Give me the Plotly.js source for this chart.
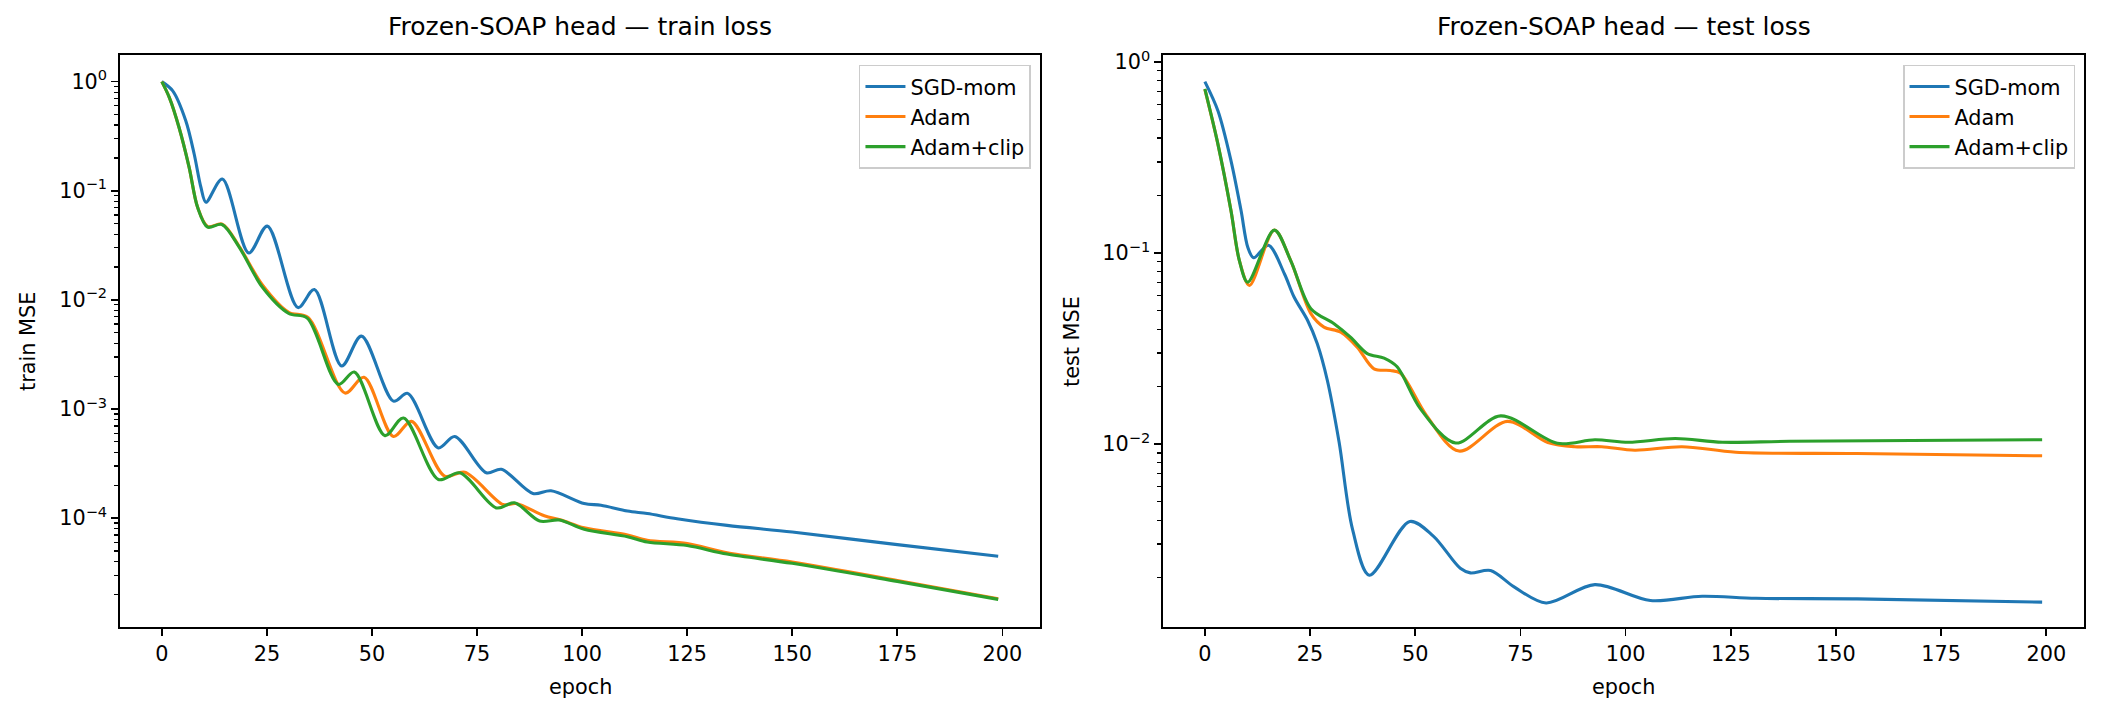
<!DOCTYPE html>
<html>
<head>
<meta charset="utf-8">
<script src="https://cdn.plot.ly/plotly-3.0.1.min.js"></script>
<style>
  html, body { margin: 0; padding: 0; background: #fff; }
  #chart { width: 2104px; height: 718px; }
</style>
</head>
<body>
<div id="chart"></div>
<script>
// train loss (left panel)
const trainSgdEpoch = [0, 2.6, 5.7, 7.7, 9.3, 10.5, 14.4, 20.7, 25.1, 32.4, 36.3, 42.8, 47.5, 55.1, 58.5, 65.8, 69.7, 77.2, 80.8, 88.3, 92.6, 100.5, 104.5, 110.8, 115.5, 122.6, 134.5, 150, 175, 199];
const trainSgd = [1.0, 0.822, 0.4375, 0.217, 0.1076, 0.0785, 0.128, 0.0269, 0.0474, 0.0085, 0.01245, 0.00248, 0.00465, 0.00118, 0.00139, 0.00044, 0.00056, 0.00026, 0.00028, 0.000168, 0.000178, 0.000136, 0.000131, 0.000116, 0.000110, 0.0000988, 0.0000858, 0.0000745, 0.0000571, 0.0000447];

const trainAdamEpoch = [0, 1.8, 4.1, 6.5, 8.5, 10.9, 14.4, 18.4, 23.9, 30.2, 34.8, 43.6, 48.1, 55.1, 59.4, 67.3, 72.1, 81.2, 84.3, 91, 95, 100.5, 110.8, 115.5, 125, 134.5, 150, 175, 199];
const trainAdam = [1.0, 0.714, 0.38, 0.164, 0.0708, 0.047, 0.0495, 0.031, 0.0138, 0.0077, 0.0069, 0.0014, 0.00195, 0.00056, 0.00077, 0.000242, 0.000263, 0.000133, 0.000136, 0.000105, 0.000096, 0.0000815, 0.000070, 0.0000625, 0.0000585, 0.0000480, 0.0000395, 0.0000268, 0.0000182];

const trainClipEpoch = [0, 1.8, 4.1, 6.5, 8.5, 10.9, 14.3, 18.4, 23.9, 30.2, 34.6, 42.0, 45.8, 53.1, 57.5, 65.8, 70.9, 79.6, 83.9, 89.9, 94.6, 100.5, 110.8, 115.5, 125, 134.5, 150, 175, 199];
const trainClip = [1.0, 0.714, 0.38, 0.164, 0.0708, 0.0464, 0.049, 0.0305, 0.0131, 0.0075, 0.0068, 0.00168, 0.00218, 0.00057, 0.000826, 0.000226, 0.00026, 0.000124, 0.000138, 0.000094, 0.000096, 0.000079, 0.0000676, 0.0000604, 0.000056, 0.0000468, 0.0000385, 0.0000263, 0.000018];

// test loss (right panel)
const testSgdEpoch = [0, 3.1, 6.2, 8.6, 10.2, 11.6, 15.1, 18.9, 21.2, 24.4, 26.7, 29.1, 31.9, 35.1, 39.1, 48.7, 54.3, 60.7, 63.1, 67.9, 73.5, 81.1, 92.7, 105.9, 118.2, 131, 155, 199];
const testSgd = [0.79, 0.556, 0.305, 0.167, 0.1074, 0.0945, 0.110, 0.078, 0.0589, 0.0445, 0.0336, 0.0216, 0.01026, 0.00358, 0.00206, 0.00394, 0.0033, 0.00224, 0.00212, 0.00218, 0.00179, 0.001475, 0.00184, 0.00152, 0.0016, 0.00156, 0.00155, 0.00149];

const testAdamEpoch = [0, 3.1, 6.2, 8.2, 10.6, 16.5, 20.4, 25.2, 28.3, 32.3, 36.2, 40.2, 44.1, 46.5, 52.7, 60.4, 71.9, 81.5, 87.9, 94.3, 102.2, 113.4, 126.2, 155, 199];
const testAdam = [0.72, 0.372, 0.167, 0.0914, 0.0678, 0.132, 0.0914, 0.0482, 0.041, 0.0386, 0.0322, 0.0248, 0.0243, 0.0235, 0.0141, 0.0092, 0.01316, 0.0102, 0.0097, 0.0097, 0.0093, 0.0097, 0.00908, 0.00893, 0.00869];

const testClipEpoch = [0, 3.1, 6.2, 8.2, 10.2, 16.5, 20.4, 25.2, 30.7, 34.6, 38.6, 42.6, 45.7, 51.2, 59.6, 70.3, 83.8, 92.7, 100.7, 111.8, 123, 139, 199];
const testClip = [0.723, 0.372, 0.167, 0.0914, 0.0705, 0.132, 0.0914, 0.0512, 0.0427, 0.0363, 0.0298, 0.0282, 0.0254, 0.01535, 0.01014, 0.01406, 0.0101, 0.01055, 0.01023, 0.0107, 0.01023, 0.01035, 0.01055];

const seriesNames = ["SGD-mom", "Adam", "Adam+clip"];
const seriesColors = ["#1f77b4", "#ff7f0e", "#2ca02c"];

const xTicks = [0, 25, 50, 75, 100, 125, 150, 175, 200];
const trainYTicks = [1, 0.1, 0.01, 0.001, 0.0001];
const trainYLabels = ["10<sup>0</sup>", "10<sup>\u22121</sup>", "10<sup>\u22122</sup>", "10<sup>\u22123</sup>", "10<sup>\u22124</sup>"];
const testYTicks = [1, 0.1, 0.01];
const testYLabels = ["10<sup>0</sup>", "10<sup>\u22121</sup>", "10<sup>\u22122</sup>"];

const FONT = "DejaVu Sans, Verdana, sans-serif";

function minorTicks(lo, hi) {
  var v = [];
  for (let e = lo; e <= hi; e++) {
    for (let m = 2; m <= 9; m++) v.push(m * Math.pow(10, e));
  }
  return v;
}

function line(x, y, i, xa, ya, leg) {
  return {
    type: "scatter",
    mode: "lines",
    name: seriesNames[i],
    x: x,
    y: y,
    xaxis: xa,
    yaxis: ya,
    legend: leg,
    line: { color: seriesColors[i], width: 3.1, shape: "spline", smoothing: 0.9 },
    hoverinfo: "skip",
  };
}

const data = [
  line(trainSgdEpoch, trainSgd, 0, "x", "y", "legend"),
  line(trainAdamEpoch, trainAdam, 1, "x", "y", "legend"),
  line(trainClipEpoch, trainClip, 2, "x", "y", "legend"),
  line(testSgdEpoch, testSgd, 0, "x2", "y2", "legend2"),
  line(testAdamEpoch, testAdam, 1, "x2", "y2", "legend2"),
  line(testClipEpoch, testClip, 2, "x2", "y2", "legend2"),
];

const xBase = {
  range: [-9.95, 208.95],
  tickvals: xTicks,
  ticks: "outside",
  ticklen: 7,
  tickwidth: 1.7,
  tickcolor: "#000",
  showline: true,
  linecolor: "#000",
  linewidth: 1.7,
  mirror: true,
  showgrid: false,
  zeroline: false,
  tickfont: { family: FONT, size: 20.8, color: "#000" },
};

function yAxis(range, vals, labels, minor) {
  return {
    type: "log",
    range: range,
    tickvals: vals,
    ticktext: labels,
    ticks: "outside",
    ticklen: 7,
    tickwidth: 1.7,
    tickcolor: "#000",
    showline: true,
    linecolor: "#000",
    linewidth: 1.7,
    mirror: true,
    showgrid: false,
    zeroline: false,
    tickfont: { family: FONT, size: 20.8, color: "#000" },
    minor: { tickmode: "array", tickvals: minor, ticks: "outside", ticklen: 4.2, tickwidth: 1.25, tickcolor: "#000", showgrid: false },
  };
}

const legendBase = {
  yanchor: "top",
  xanchor: "right",
  y: 0.9095,
  bgcolor: "rgba(255,255,255,0.8)",
  bordercolor: "#cccccc",
  borderwidth: 1.5,
  font: { family: FONT, size: 20.8, color: "#000" },
  itemwidth: 40,
};

const textFont = { family: FONT, size: 20.8, color: "#000" };

const layout = {
  width: 2104,
  height: 718,
  margin: { l: 0, r: 0, t: 0, b: 0, pad: 0 },
  paper_bgcolor: "#fff",
  plot_bgcolor: "#fff",
  font: { family: FONT, color: "#000" },
  showlegend: true,
  xaxis: Object.assign({}, xBase, { domain: [0.05703, 0.49430], anchor: "y" }),
  yaxis: Object.assign(yAxis([-4.998, 0.244], trainYTicks, trainYLabels, minorTicks(-5, -1)), { domain: [0.12674, 0.9234], anchor: "x" }),
  xaxis2: Object.assign({}, xBase, { domain: [0.55276, 0.99049], anchor: "y2" }),
  yaxis2: Object.assign(yAxis([-2.957, 0.037], testYTicks, testYLabels, minorTicks(-3, -1)), { domain: [0.12674, 0.9234], anchor: "x2" }),
  legend: Object.assign({}, legendBase, { x: 0.4900 }),
  legend2: Object.assign({}, legendBase, { x: 0.98622 }),
  annotations: [
    { text: "Frozen-SOAP head \u2014 train loss", xref: "paper", yref: "paper", x: 0.27567, y: 0.9624, xanchor: "center", yanchor: "middle", showarrow: false, font: { family: FONT, size: 25, color: "#000" } },
    { text: "Frozen-SOAP head \u2014 test loss", xref: "paper", yref: "paper", x: 0.77163, y: 0.9624, xanchor: "center", yanchor: "middle", showarrow: false, font: { family: FONT, size: 25, color: "#000" } },
    { text: "epoch", xref: "paper", yref: "paper", x: 0.27567, y: 0.0432, xanchor: "center", yanchor: "middle", showarrow: false, font: textFont },
    { text: "epoch", xref: "paper", yref: "paper", x: 0.77163, y: 0.0432, xanchor: "center", yanchor: "middle", showarrow: false, font: textFont },
    { text: "train MSE", xref: "paper", yref: "paper", x: 0.0133, y: 0.5251, xanchor: "center", yanchor: "middle", textangle: -90, showarrow: false, font: textFont },
    { text: "test MSE", xref: "paper", yref: "paper", x: 0.5095, y: 0.5251, xanchor: "center", yanchor: "middle", textangle: -90, showarrow: false, font: textFont },
  ],
};

Plotly.newPlot("chart", data, layout, { displayModeBar: false, staticPlot: true });
</script>
</body>
</html>
